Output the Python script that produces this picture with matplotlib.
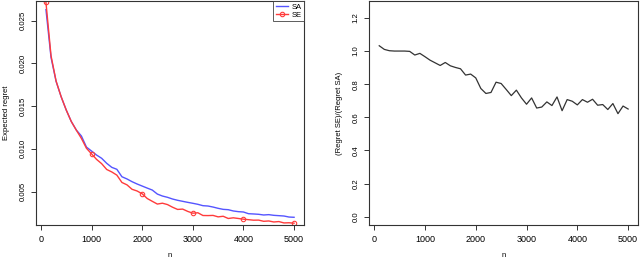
import matplotlib
matplotlib.use("Agg")
import matplotlib.pyplot as plt

plt.rcParams['font.family'] = ['Liberation Sans', 'DejaVu Sans']

n = [100, 200, 300, 400, 500, 600, 700, 800, 900, 1000,
     1100, 1200, 1300, 1400, 1500, 1600, 1700, 1800, 1900, 2000,
     2100, 2200, 2300, 2400, 2500, 2600, 2700, 2800, 2900, 3000,
     3100, 3200, 3300, 3400, 3500, 3600, 3700, 3800, 3900, 4000,
     4100, 4200, 4300, 4400, 4500, 4600, 4700, 4800, 4900, 5000]

regret_sa = [0.0263, 0.0207, 0.0179, 0.0161, 0.01455, 0.0132, 0.0122, 0.0115, 0.0102, 0.00974,
             0.00927, 0.00889, 0.0083, 0.00783, 0.0076, 0.00673, 0.00647, 0.00615, 0.00588, 0.00564,
             0.0054, 0.00517, 0.0047, 0.00447, 0.00432, 0.00412, 0.00397, 0.00385, 0.00373, 0.00362,
             0.0035, 0.00334, 0.0033, 0.00318, 0.00303, 0.00291, 0.00287, 0.00272, 0.00264, 0.0026,
             0.0024, 0.00237, 0.00233, 0.00225, 0.00229, 0.00221, 0.00217, 0.00213, 0.00201, 0.00198]

regret_se = [0.02714, 0.02091, 0.01794, 0.0161, 0.01455, 0.0132, 0.01218, 0.01122, 0.01006, 0.00941,
             0.00876, 0.00826, 0.00758, 0.00729, 0.00692, 0.00606, 0.00578, 0.00526, 0.00506, 0.00473,
             0.00418, 0.00385, 0.00353, 0.00363, 0.00347, 0.00316, 0.0029, 0.00294, 0.00267, 0.00246,
             0.00251, 0.00219, 0.00218, 0.0022, 0.00203, 0.0021, 0.00184, 0.00192, 0.00184, 0.00176,
             0.0017, 0.00164, 0.00165, 0.00151, 0.00155, 0.00143, 0.00148, 0.00132, 0.00134, 0.00129]

ratio = [1.032, 1.01, 1.002, 1.0, 1.0, 1.0, 0.998, 0.976, 0.986, 0.966,
         0.945, 0.929, 0.913, 0.931, 0.911, 0.901, 0.893, 0.855, 0.861, 0.838,
         0.774, 0.744, 0.75, 0.812, 0.804, 0.768, 0.731, 0.764, 0.717, 0.679,
         0.717, 0.656, 0.662, 0.693, 0.671, 0.723, 0.64, 0.707, 0.697, 0.675,
         0.707, 0.691, 0.709, 0.673, 0.677, 0.647, 0.683, 0.622, 0.668, 0.65]

x_ticks = [0, 1000, 2000, 3000, 4000, 5000]
left_yticks = [0.005, 0.010, 0.015, 0.020, 0.025]
left_ylabels = ["0.005", "0.010", "0.015", "0.020", "0.025"]
right_yticks = [0.0, 0.2, 0.4, 0.6, 0.8, 1.0, 1.2]
right_ylabels = ["0.0", "0.2", "0.4", "0.6", "0.8", "1.0", "1.2"]
marker_idx = [0, 9, 19, 29, 39, 49]

fig = plt.figure(figsize=(6.4, 2.58), dpi=100)
ax1 = fig.add_axes([0.0563, 0.128, 0.4187, 0.868])
ax2 = fig.add_axes([0.577, 0.128, 0.42, 0.868])

def style(ax):
    for s in ax.spines.values():
        s.set_linewidth(0.8)
        s.set_color('#333333')
    ax.tick_params(axis='both', direction='out', length=3.5, width=0.7, color='#333333')
    ax.tick_params(axis='x', labelsize=6.5, pad=3.5)
    ax.tick_params(axis='y', labelsize=5.6, pad=3.5)
    ax.set_xlim(-96, 5196)
    ax.set_xticks(x_ticks)
    ax.set_xticklabels([str(t) for t in x_ticks])
    for lbl in ax.get_yticklabels():
        lbl.set_rotation(90)
        lbl.set_va('center')

ax1.plot(n, regret_sa, color='#5555ff', lw=1.0, label='SA')
ax1.plot(n, regret_se, color='#ff3b3b', lw=1.0, marker='o', markersize=3.2,
         markerfacecolor='none', markeredgewidth=0.8, markevery=marker_idx, label='SE')
ax1.set_ylim(0.00108, 0.02731)
ax1.set_yticks(left_yticks)
ax1.set_yticklabels(left_ylabels)
style(ax1)
ax1.set_xlabel('n', fontsize=5.5, labelpad=6)
ax1.set_ylabel('Expected regret', fontsize=5.5, labelpad=7)
leg = ax1.legend(loc='upper right', fontsize=5.5, frameon=True, fancybox=False,
                 borderpad=0.3, handlelength=1.6, handletextpad=0.5, labelspacing=0.1,
                 borderaxespad=0.0)
leg.get_frame().set_edgecolor('#333333')
leg.get_frame().set_linewidth(0.7)

ax2.plot(n, ratio, color='#333333', lw=0.9)
ax2.set_ylim(-0.05, 1.302)
ax2.set_yticks(right_yticks)
ax2.set_yticklabels(right_ylabels)
style(ax2)
ax2.set_xlabel('n', fontsize=5.5, labelpad=6)
ax2.set_ylabel('(Regret SE)/(Regret SA)', fontsize=5.5, labelpad=7)

fig.savefig('out.png', dpi=100)
